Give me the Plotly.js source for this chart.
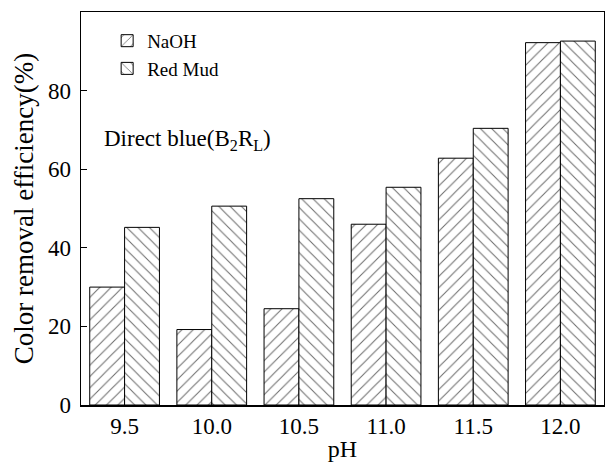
<!DOCTYPE html>
<html>
<head>
<meta charset="utf-8">
<script src="https://cdn.plot.ly/plotly-3.0.1.min.js"></script>
<style>html,body{margin:0;padding:0;background:#fff;}#chart{width:605px;height:463px;}</style>
</head>
<body>
<div id="chart"></div>
<script>
const categories = ["9.5", "10.0", "10.5", "11.0", "11.5", "12.0"];
const naohValues = [30.0, 19.2, 24.5, 46.0, 62.8, 92.2];
const redMudValues = [45.2, 50.6, 52.5, 55.4, 70.4, 92.6];
const seriesNames = ["NaOH", "Red Mud"];
const yTicks = [0, 20, 40, 60, 80];

const font = "Liberation Serif";

const traces = [
  {
    type: "bar", name: seriesNames[0], x: categories, y: naohValues,
    marker: {color: "#ffffff", line: {color: "#000000", width: 1},
      pattern: {shape: "/", fgcolor: "#6e6e6e", bgcolor: "#ffffff", size: 8, solidity: 0.13}}
  },
  {
    type: "bar", name: seriesNames[1], x: categories, y: redMudValues,
    marker: {color: "#ffffff", line: {color: "#000000", width: 1},
      pattern: {shape: "\\", fgcolor: "#6e6e6e", bgcolor: "#ffffff", size: 8, solidity: 0.13}}
  }
];

const layout = {
  width: 605, height: 463,
  margin: {l: 81, r: 1, t: 12, b: 58},
  paper_bgcolor: "#ffffff", plot_bgcolor: "#ffffff",
  font: {family: font, color: "#000000", size: 20},
  barmode: "group", bargap: 0.2, bargroupgap: 0,
  showlegend: true,
  legend: {x: 0.05, y: 0.975, xanchor: "left", yanchor: "top", bgcolor: "rgba(0,0,0,0)",
    font: {family: font, size: 19, color: "#000"}, tracegroupgap: 0, itemwidth: 30},
  xaxis: {
    type: "category", range: [-0.5, 5.5],
    showline: true, linecolor: "#000", linewidth: 1.5, mirror: true,
    ticks: "", showgrid: false, zeroline: false,
    tickfont: {family: font, size: 23, color: "#000"},
    title: {text: "pH", font: {family: font, size: 24, color: "#000"}, standoff: 2}
  },
  yaxis: {
    range: [0, 100], tickvals: yTicks,
    showline: true, linecolor: "#000", linewidth: 1.5, mirror: true,
    ticks: "inside", ticklen: 6, tickcolor: "#000", showgrid: false, zeroline: false,
    tickfont: {family: font, size: 23, color: "#000"}, ticklabelstandoff: 4,
    title: {text: "Color removal efficiency(%)", font: {family: font, size: 27, color: "#000"}, standoff: 6}
  },
  annotations: [{
    text: "Direct blue(B<sub>2</sub>R<sub>L</sub>)", xref: "paper", yref: "paper",
    x: 0.04, y: 0.674, xanchor: "left", yanchor: "middle", showarrow: false,
    font: {family: font, size: 23, color: "#000"}
  }]
};

Plotly.newPlot("chart", traces, layout, {displayModeBar: false, staticPlot: true});
</script>
</body>
</html>
